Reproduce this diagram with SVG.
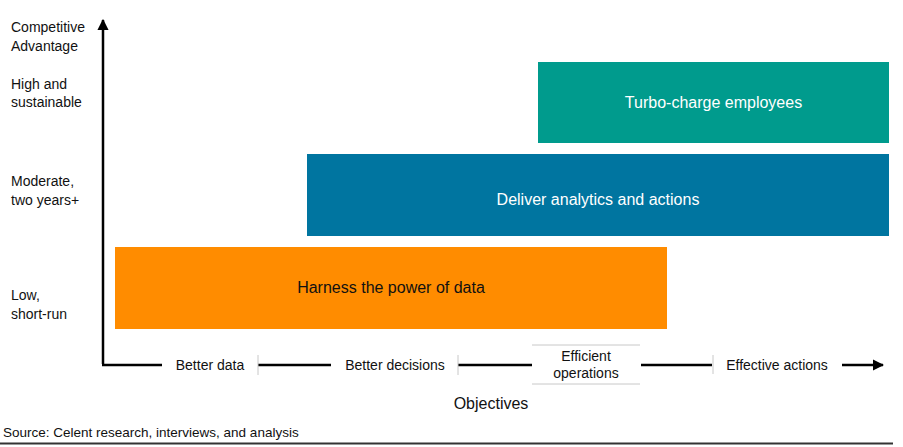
<svg xmlns="http://www.w3.org/2000/svg" width="903" height="447" viewBox="0 0 903 447">
<style>
text{font-family:"Liberation Sans",Arial,sans-serif;fill:#111}
.lbl{font-size:14px}
.box{font-size:16px;fill:#fff;text-anchor:middle}
.ax{stroke:#000;stroke-width:2.5;fill:none}
.sep{stroke:#c8c8c8;stroke-width:1;fill:none}
.tick{font-size:14px;text-anchor:middle}
</style>
<defs>
<marker id="arr" viewBox="0 0 10 10" refX="9" refY="5" markerWidth="4.5" markerHeight="4.5" orient="auto" markerUnits="strokeWidth">
<path d="M0,0 L10,5 L0,10 Z" fill="#000"/>
</marker>
</defs>
<rect width="903" height="447" fill="#fff"/>
<g id="y-labels">
<text class="lbl" x="11" y="32">Competitive</text>
<text class="lbl" x="11" y="51">Advantage</text>
<text class="lbl" x="11" y="89">High and</text>
<text class="lbl" x="11" y="107">sustainable</text>
<text class="lbl" x="11" y="186">Moderate,</text>
<text class="lbl" x="11" y="205">two years+</text>
<text class="lbl" x="11" y="300">Low,</text>
<text class="lbl" x="11" y="319">short-run</text>
</g>
<g id="connectors">
<path class="ax" d="M103,364 L103,20" marker-end="url(#arr)"/>
<path class="ax" d="M102,365 L162,365"/>
<path class="ax" d="M258,365 L331,365"/>
<path class="ax" d="M458,365 L532,365"/>
<path class="ax" d="M641,365 L712,365"/>
<path class="ax" d="M842,365 L883,365" marker-end="url(#arr)"/>
<path class="sep" d="M258,355 V375 M458,355 V375 M713,355 V374 M532,345 H640 M532,384 H640"/>
</g>
<g id="node-turbo">
<rect x="538" y="62" width="351" height="81" fill="#009B8D"/>
<text class="box" x="713.5" y="108">Turbo-charge employees</text>
</g>
<g id="node-deliver">
<rect x="307" y="154" width="582" height="82" fill="#0075A0"/>
<text class="box" x="598" y="205">Deliver analytics and actions</text>
</g>
<g id="node-harness">
<rect x="115" y="247" width="552" height="82" fill="#FF8C00"/>
<text class="box" x="391" y="293" style="fill:#111">Harness the power of data</text>
</g>
<g id="x-labels">
<text class="tick" x="210" y="370">Better data</text>
<text class="tick" x="395" y="370">Better decisions</text>
<text class="tick" x="586" y="361">Efficient</text>
<text class="tick" x="586" y="378">operations</text>
<text class="tick" x="777" y="370">Effective actions</text>
<text x="491" y="409" style="font-size:16px;text-anchor:middle">Objectives</text>
</g>
<text x="3" y="437" style="font-size:13.5px">Source: Celent research, interviews, and analysis</text>
<line x1="0" y1="443.5" x2="893" y2="443.5" stroke="#333" stroke-width="2"/>
</svg>
